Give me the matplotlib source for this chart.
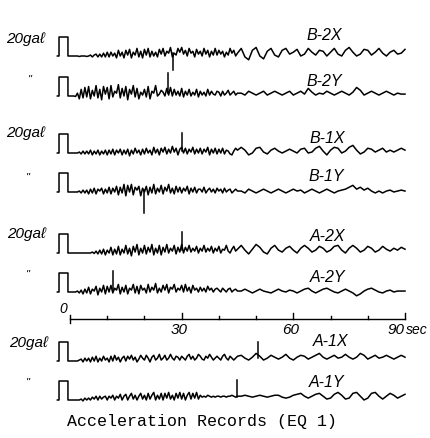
import matplotlib.pyplot as plt
import numpy as np

# reading grid: 0.5 s steps up to 45 s, then 1 s steps to 90 s
t_early = np.arange(0, 45.5, 0.5)
t_late = np.arange(46, 91, 1.0)
t_sec = np.concatenate([t_early, t_late])

trace_names = ['B-2X', 'B-2Y', 'B-1X', 'B-1Y', 'A-2X', 'A-2Y', 'A-1X', 'A-1Y']
scale_labels = ['20gaℓ', '"', '20gaℓ', '"', '20gaℓ', '"', '20gaℓ', '"']

# acceleration in gal
b2x = [0, 0, 0, 0, 0, -0.5, 0, 0, 0, -0.5,
       0, 1, -1, 1, 2, -1, 2, -1, 3, -1,
       4, -1, 4, 0, 3, -2, 6, 0, 4, -2,
       6, 1, 7, -2, 4, 1, 8, -1, 5, -2,
       7, 1, 8, -1, 5, 0, 4, -1, 7, 2,
       8, 0, 5, 3, 9, -1, 3, 1, 8, 4,
       9, 2, 6, 0, 8, 3, 5, -1, 7, 2,
       5, 0, 8, 2, 6, -1, 5, 1, 8, 1,
       6, 2, 5, -1, 4, 1, 8, 3, 6, 0,
       3,
       8, -1, -4, 6, 9, 0, -3, 5, 8, 1,
       -1, 6, 8, 2, 4, 7, 0, 2, 8, 4,
       1, 6, 5, 0, 4, 8, 2, 0, 6, 9,
       4, 0, 2, 7, 6, 1, 4, 8, 3, 0,
       4, 6, 2, 3, 7]
b2y = [0, 0, 0, -0.5, 3, -3, 7, -2, 9, -1,
       10, -3, 6, 0, 11, -2, 7, -4, 10, 2,
       9, -3, 11, -1, 5, 3, 12, -2, 8, 0,
       10, -4, 7, 2, 11, -1, 8, -3, 4, 1,
       7, -1, 10, -3, 5, 3, 11, 0, 2, 6,
       4, 0, 8, 1, 9, 0, 7, 1, 5, 0,
       8, -1, 5, 1, 7, 0, 4, 1, 7, -1,
       5, 1, 4, 0, 7, 1, 5, 2, 1, 5,
       4, 0, 5, 1, 3, 6, 1, 3, 5, 1,
       3,
       3, 1, 5, 3, 1, 3, 5, 1, 3, 5,
       3, 1, 3, 5, 1, 3, 5, 2, 8, 4,
       1, 3, 2, 5, 3, 1, 3, 5, 3, 1,
       4, 9, 6, 1, 3, 5, 3, 1, 3, 5,
       3, 1, 3, 2, 2]
b1x = [0, 0, 0, 0, 0, 1, -1, 2, -1, 2,
       -1, 3, -2, 2, -1, 3, -2, 2, -1, 3,
       -2, 3, -1, 4, -2, 3, 0, 4, -2, 3,
       -1, 4, -3, 3, -1, 5, 0, 3, -2, 4,
       -1, 5, 0, 3, -2, 6, 0, 4, -2, 5,
       1, 6, -1, 4, 0, 7, 1, 5, -2, 4,
       6, 0, 5, -1, 4, 1, 6, -1, 4, 0,
       5, -1, 4, 1, 6, -2, 4, 0, 5, -1,
       4, 0, 5, -1, 3, 2, -1, -2, 2, 5,
       3,
       6, 3, -2, 0, 5, 6, 1, -1, 3, 5,
       2, 0, 2, 4, 2, 0, 4, 5, 0, 1,
       5, 7, 2, -2, 3, 6, 5, 0, 2, 6,
       8, 3, -1, 1, 5, 4, 1, 3, 5, 1,
       3, 1, 3, 5, 3]
b1y = [0, 0, 0, 0, 0, 1, -1, 2, -1, 2,
       -2, 3, -1, 4, -2, 3, 1, 4, -2, 3,
       -1, 5, -2, 4, 0, 6, -3, 5, -1, 8,
       -4, 7, 0, 8, -3, 5, 2, 6, -4, 4,
       0, 6, -3, 5, -1, 8, -2, 4, 0, 7,
       -2, 5, 1, 8, -1, 4, -2, 6, 0, 5,
       -1, 4, 1, 6, -2, 4, 0, 5, -1, 3,
       3, 0, 5, -1, 2, 4, 0, 3, -1, 4,
       1, 3, -1, 4, 0, 2, 3, -1, 1, 3,
       1,
       1, -1, 3, 1, -1, 1, 3, 1, -1, 1,
       3, 1, -1, 1, 3, 1, 2, -1, 1, 3,
       1, -1, 1, 3, 1, -1, 1, 2, 3, 5,
       7, 3, 5, 2, 4, 1, -1, 1, -1, 1,
       2, 0, 1, 2, 1]
a2x = [0, 0, 0, 0, 0, 0, 0, 0, 0, 0,
       0, 0, 1, -0.5, 2, -1, 3, -1, 4, -2,
       3, 0, 6, -2, 4, -1, 7, -2, 4, 0,
       8, -1, 5, -3, 7, 1, 9, -2, 5, 0,
       8, -1, 6, 1, 9, -2, 5, 0, 8, -2,
       6, 1, 9, 0, 5, 2, 8, -1, 6, 1,
       9, 0, 6, 2, 8, 1, 5, 2, 7, 0,
       5, 2, 8, 1, 5, 2, 7, 0, 5, 2,
       7, 0, 4, 3, 8, 2, 0, 4, 7, 2,
       4,
       8, 3, -1, 4, 9, 6, 1, -1, 5, 8,
       3, 1, 5, 7, 3, 0, 5, 8, 5, 1,
       3, 7, 5, 1, 3, 7, 8, 3, 0, 5,
       8, 5, 1, 3, 7, 5, 1, 3, 7, 4,
       2, 5, 3, 6, 4]
a2y = [0, 0, 0, 0, 1, -1, 2, -2, 3, -1,
       5, -2, 3, 1, 6, -3, 4, 0, 7, -2,
       6, 0, 7, -1, 4, 2, 8, -2, 5, 0,
       7, -2, 4, 2, 8, -1, 6, -2, 7, 2,
       4, -1, 8, 0, 5, 2, 9, -1, 4, 0,
       7, 2, 8, -1, 5, 3, 8, 0, 4, 2,
       7, 0, 8, 1, 5, -1, 7, 2, 4, 0,
       5, 1, 4, 0, 6, 2, 4, 0, 3, 4,
       2, 0, 4, 2, 0, 3, 4, 0, 2, 3,
       1,
       1, 3, 1, -1, 1, 3, 1, 0, -1, 1,
       3, 1, 0, 2, 1, -1, 1, 3, 4, 1,
       -1, 1, 3, 4, 2, 0, -1, 1, 3, 1,
       -1, -4, -2, 1, 3, 4, 2, 0, -1, 1,
       2, 0, 1, 1, 1]
a1x = [0, 0, 0, 0, 0, 1, 2, -1, 3, 0,
       3, -1, 4, 0, 5, -1, 3, 0, 5, 1,
       3, -1, 5, 0, 6, 1, 4, -1, 3, 5,
       0, 5, 2, 6, 1, 4, -1, 2, 6, 3,
       1, 6, 3, -1, 4, 6, 1, 3, 7, 1,
       3, 6, 1, 3, 7, 3, 1, 5, 4, 1,
       5, 3, 1, 5, 7, 2, 5, 1, 3, 7,
       5, 2, 1, 5, 3, 7, 4, 1, 3, 5,
       3, 1, 5, 7, 3, 1, 5, 3, 1, 3,
       5,
       6, 3, 1, 4, 8, 5, 1, 3, 6, 4,
       2, 4, 7, 3, 1, 4, 6, 5, 2, 4,
       6, 8, 4, 2, 4, 6, 3, 4, 7, 4,
       2, 4, 8, 6, 2, 4, 6, 3, 4, 6,
       4, 2, 4, 6, 4]
a1y = [0, 0, 0, 0, 0, 0, 1, -1, 2, 0,
       2, 0, 3, 1, 4, 0, 4, 1, 3, 4,
       0, 4, 2, 5, 0, 4, 2, 6, 0, 4,
       6, 0, 4, 7, 1, 5, 0, 4, 7, 1,
       5, 0, 7, 1, 5, 8, 0, 5, 1, 7,
       0, 7, 2, 8, 1, 5, 0, 7, 2, 8,
       1, 7, 0, 5, 8, 1, 7, 2, 8, 1,
       5, 3, 4, 3, 5, 4, 3, 4, 3, 4,
       4, 3, 4, 4, 3, 4, 4, 5, 4, 3,
       4,
       4, 5, 4, 3, 4, 5, 4, 3, 4, 5,
       5, 3, 2, 3, 5, 6, 7, 4, 2, 4,
       6, 7, 4, 1, 2, 6, 8, 5, 1, 2,
       7, 8, 4, 0, 2, 7, 8, 4, 1, 4,
       7, 5, 2, 4, 6]
traces = [b2x, b2y, b1x, b1y, a2x, a2y, a1x, a1y]

# 20 gal calibration pulse in front of every record
pulse_t = [-3.4, -2.95, -2.95, -0.55, -0.55, 0]
pulse_gal = [0, 0, 20, 20, 0, 0]

# time marks (vertical strokes) on each record, gal from / to
mark_t = [27.7, 26.3, 30.0, 19.9, 30.0, 11.6, 50.5, 44.8]
mark_from = [3, 3, 2, 2, 3, 2, 3, 3]
mark_to = [-15, 24, 21, -22, 22, 22, 20, 21]

tick_sec = np.arange(0, 91, 10)
tick_text = ['30', '60', '90']

# layout in pixels of the 430x439 page
W, H = 430, 439
x0_px, px_per_sec = 70, 335 / 90
px_per_gal = 0.95
baselines = [57, 97, 154, 193, 254, 293, 362, 401]
name_pos = [(324, 36), (324, 81), (327, 139), (326, 177),
            (328, 237), (328, 278), (331, 342), (327, 383)]
scale_pos = [(26, 39), (30, 80), (26, 133), (28, 178),
             (27, 234), (28, 275), (29, 343), (28, 383)]
axis_y = 320


def sec(px):
    return (px - x0_px) / px_per_sec


fig = plt.figure(figsize=(W / 100, H / 100), dpi=100)
ax = fig.add_axes([0, 0, 1, 1])
ax.set_xlim(sec(0), sec(W))
ax.set_ylim(H, 0)
ax.axis('off')

hand = dict(family=['Liberation Sans', 'DejaVu Sans'], style='italic', color='black')

for i in range(len(traces)):
    base = baselines[i]
    t = np.concatenate([pulse_t, t_sec])
    g = np.concatenate([pulse_gal, traces[i]])
    ax.plot(t, base - px_per_gal * g, color='black', lw=1.1)
    ax.plot([mark_t[i], mark_t[i]],
            [base - px_per_gal * mark_from[i], base - px_per_gal * mark_to[i]],
            color='black', lw=1.1)
    nx, ny = name_pos[i]
    ax.text(sec(nx), ny, trace_names[i], ha='center', va='center', fontsize=11.5, **hand)
    sx, sy = scale_pos[i]
    fs = 11 if scale_labels[i] != '"' else 8
    ax.text(sec(sx), sy, scale_labels[i], ha='center', va='center', fontsize=fs, **hand)

# time scale
ax.plot([0, 90], [axis_y, axis_y], color='black', lw=1.0)
for s in tick_sec:
    if s == 0:
        ax.plot([s, s], [axis_y - 4, axis_y + 4], color='black', lw=1.0)
    elif s % 30 == 0:
        ax.plot([s, s], [axis_y, axis_y - 6], color='black', lw=1.0)
    else:
        ax.plot([s, s], [axis_y, axis_y - 3], color='black', lw=1.0)
ax.text(sec(63), 309, '0', ha='center', va='center', fontsize=10, **hand)
for s, lab in zip([30, 60, 90], tick_text):
    ax.text(s - 0.6 if s < 90 else s - 2.4, 330, lab, ha='center', va='center', fontsize=11, **hand)
ax.text(sec(406), 330, 'sec', ha='left', va='center', fontsize=10, **hand)

ax.text(sec(202), 422, 'Acceleration Records (EQ 1)', ha='center', va='center',
        fontsize=12, family='Liberation Mono', color='black')

fig.savefig('out.png', dpi=100, facecolor='white')
